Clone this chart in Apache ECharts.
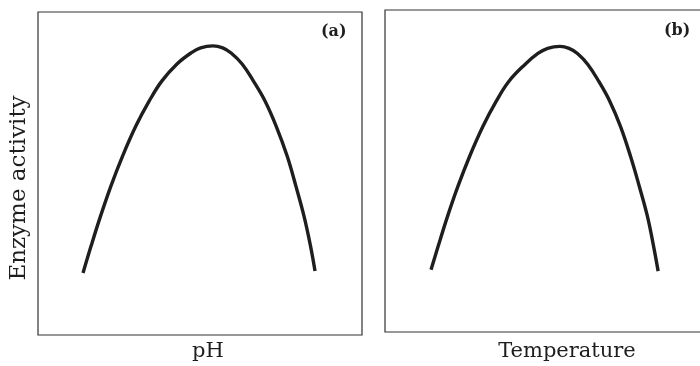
<!DOCTYPE html>
<html>
<head>
<meta charset="utf-8">
<script src="https://cdn.jsdelivr.net/npm/echarts@6/dist/echarts.min.js"></script>
<style>
  html, body { margin: 0; padding: 0; background: #fff; }
  #chart { width: 700px; height: 366px; }
</style>
</head>
<body>
<div id="chart"></div>
<script>
// curve (a): activity vs pH, arbitrary units 0-100 on both axes
const phX = [13.9, 16.4, 19.3, 22.5, 26.1, 30.2, 34.3, 38.2, 42.9, 47.2, 50.2, 54.0, 57.0, 59.6, 63.0, 66.5, 70.1, 73.5, 76.9, 79.6, 82.1, 84.1, 85.5];
const phY = [19.2, 27.6, 36.8, 46.1, 55.4, 64.7, 72.4, 78.6, 83.9, 87.3, 88.9, 89.5, 88.9, 87.3, 83.9, 78.6, 72.4, 64.7, 55.4, 46.1, 36.8, 27.6, 19.8];
// curve (b): activity vs temperature
const tempX = [14.2, 16.4, 19.3, 22.5, 26.1, 30.2, 34.3, 38.2, 43.2, 47.2, 50.2, 54.0, 56.8, 59.4, 62.6, 66.0, 69.4, 72.7, 75.8, 78.5, 81.0, 82.9, 84.3];
const tempY = [19.3, 26.6, 35.9, 45.2, 54.5, 63.8, 71.6, 77.8, 83.1, 86.5, 88.1, 88.7, 88.1, 86.5, 83.1, 77.8, 71.6, 63.8, 54.5, 45.2, 35.9, 26.6, 18.9];

const panelTags = ['(a)', '(b)'];
const xNames = ['pH', 'Temperature'];
const yName = 'Enzyme activity';

const serif = '"DejaVu Serif", "Liberation Serif", serif';
const ink = '#1e1e1e';

const pairs = (xs, ys) => xs.map((x, i) => [x, ys[i]]);

let chartDom = document.getElementById('chart');
let myChart = echarts.init(chartDom);

const hiddenAxis = {
    type: 'value', min: 0, max: 100,
    axisLine: { show: false }, axisTick: { show: false },
    axisLabel: { show: false }, splitLine: { show: false }
};

let option = {
    animation: false,
    backgroundColor: '#fff',
    grid: [
        { left: 38, top: 12, width: 324, height: 323, outerBoundsMode: 'none', show: true, borderColor: '#333', borderWidth: 1.2, backgroundColor: 'transparent' },
        { left: 385, top: 10, width: 324, height: 322, outerBoundsMode: 'none', show: true, borderColor: '#333', borderWidth: 1.2, backgroundColor: 'transparent' }
    ],
    xAxis: [0, 1].map(i => Object.assign({}, hiddenAxis, {
        gridIndex: i,
        name: xNames[i],
        nameLocation: 'middle',
        nameGap: i === 0 ? 6 : 9,
        // titles sit a bit right of the box centre in the original
        nameTextStyle: { fontFamily: serif, fontSize: 21, color: ink, padding: [0, 0, 0, i === 0 ? 16 : 40] }
    })),
    yAxis: [0, 1].map(i => Object.assign({}, hiddenAxis, { gridIndex: i })),
    series: [
        {
            type: 'line', xAxisIndex: 0, yAxisIndex: 0,
            data: pairs(phX, phY), smooth: 0.4, showSymbol: false,
            lineStyle: { color: ink, width: 3.4 }
        },
        {
            type: 'line', xAxisIndex: 1, yAxisIndex: 1,
            data: pairs(tempX, tempY), smooth: 0.4, showSymbol: false,
            lineStyle: { color: ink, width: 3.4 }
        }
    ],
    graphic: [
        // y title sits a little below the box middle in the original
        { type: 'text', x: 19, y: 188, rotation: Math.PI / 2,
          style: { text: yName, font: '23px ' + serif, fill: ink, align: 'center', verticalAlign: 'middle' } },
        { type: 'text', left: 321, top: 24, style: { text: panelTags[0], font: 'bold 16px ' + serif, fill: ink } },
        { type: 'text', left: 664, top: 23, style: { text: panelTags[1], font: 'bold 16px ' + serif, fill: ink } }
    ]
};
option && myChart.setOption(option);
</script>
</body>
</html>
